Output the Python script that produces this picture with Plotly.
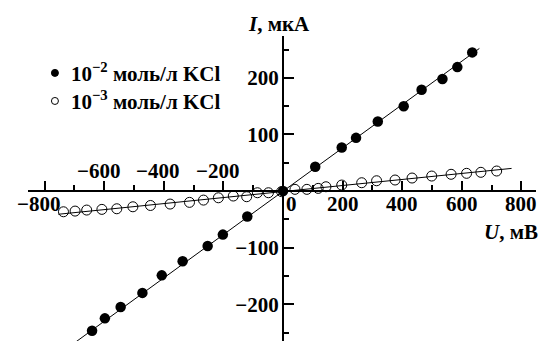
import plotly.graph_objects as go

# ---- data ----
u_hi = [-641, -598, -545, -472, -407, -337, -253, -202, -120, 0,
        108, 197, 245, 318, 405, 465, 535, 585, 635]
i_hi = [-247, -225, -205, -180, -149, -124, -97, -77, -45, 0,
        43, 77, 94, 123, 150, 179, 198, 219, 245]

u_lo = [-737, -698, -659, -608, -558, -504, -445, -379, -314, -267,
        -217, -167, -122, -86, -49, -5, 40, 80, 118, 144,
        197, 264, 314, 376, 433, 499, 564, 616, 664, 717]
i_lo = [-36.6, -35.4, -33.6, -32.4, -31.3, -27.8, -25.5, -23, -20, -16,
        -11.9, -8.8, -10, -3, -3, -1, 3, 3, 4.7, 7.6,
        10.6, 14.7, 18.2, 19.5, 23, 26.5, 29.6, 31.3, 33.1, 35.4]

fit_hi_u = [-720, 659]
fit_hi_i = [-276, 252]
fit_lo_u = [-754, 767]
fit_lo_i = [-41, 40]

x_range = [-856, 849]
y_range = [-265, 274]

x_major = [-800, -600, -400, -200, 0, 200, 400, 600, 800]
x_labels_below = [-800, 0, 200, 400, 600, 800]
x_labels_above = [-600, -400, -200]
y_major = [-200, -100, 100, 200]
y_labels = ["\u2212200", "\u2212100", "100", "200"]

leg_texts = ["10<sup>\u22122</sup> моль/л KCl", "10<sup>\u22123</sup> моль/л KCl"]
x_title = "<i>U</i>, мВ"
y_title = "<i>I</i>, мкА"

FONT = dict(family="Liberation Serif, Times New Roman, serif", size=21,
            color="black", weight="bold")

def fmt(v):
    return ("\u2212" + str(-v)) if v < 0 else str(v)

fig = go.Figure()
fig.add_trace(go.Scatter(x=fit_hi_u, y=fit_hi_i, mode="lines",
                         line=dict(color="black", width=1), showlegend=False))
fig.add_trace(go.Scatter(x=fit_lo_u, y=fit_lo_i, mode="lines",
                         line=dict(color="black", width=1), showlegend=False))
fig.add_trace(go.Scatter(x=u_hi, y=i_hi, mode="markers", name=leg_texts[0],
                         marker=dict(symbol="circle", size=10.5, color="black"),
                         showlegend=False))
fig.add_trace(go.Scatter(x=u_lo, y=i_lo, mode="markers", name=leg_texts[1],
                         marker=dict(symbol="circle-open", size=10, color="black",
                                     line=dict(width=1)),
                         showlegend=False))

xpos = (0 - y_range[0]) / (y_range[1] - y_range[0])
ypos = (0 - x_range[0]) / (x_range[1] - x_range[0])

fig.update_layout(
    width=542, height=341,
    margin=dict(l=28, r=6, t=36, b=0),
    plot_bgcolor="white", paper_bgcolor="white",
    font=FONT,
    showlegend=False,
    xaxis=dict(range=x_range, anchor="free", position=xpos, automargin=False,
               showgrid=False, zeroline=False, showline=True,
               linecolor="black", linewidth=2,
               tickmode="array", tickvals=x_major, showticklabels=False,
               ticks="inside", ticklen=9, tickwidth=2, tickcolor="black",
               minor=dict(dtick=100, tick0=0, ticks="inside", ticklen=5,
                          tickwidth=2, tickcolor="black")),
    yaxis=dict(range=y_range, anchor="free", position=ypos, automargin=False,
               showgrid=False, zeroline=False, showline=True,
               linecolor="black", linewidth=2,
               tickmode="array", tickvals=y_major, ticktext=y_labels,
               ticks="inside", ticklen=10, tickwidth=2, tickcolor="black",
               minor=dict(dtick=50, tick0=0, ticks="inside", ticklen=5,
                          tickwidth=2, tickcolor="black"),
               tickfont=FONT, ticklabelstandoff=-1),
)

# x tick labels
for v in x_labels_below:
    shift = -6 if v < 0 else (8 if v == 0 else 0)
    fig.add_annotation(x=v, y=0, xref="x", yref="y", text=fmt(v),
                       showarrow=False, font=FONT, xshift=shift, yshift=-13)
for v in x_labels_above:
    fig.add_annotation(x=v, y=0, xref="x", yref="y", text=fmt(v),
                       showarrow=False, font=FONT, xshift=-6, yshift=20)

# axis titles
fig.add_annotation(x=0, y=1, xref="x", yref="paper", text=y_title,
                   showarrow=False, font=FONT, yanchor="bottom", yshift=-2, xshift=-4)
fig.add_annotation(x=1, y=0, xref="paper", yref="y", text=x_title,
                   showarrow=False, font=FONT, xanchor="right", yshift=-41, xshift=4)

# manual legend
leg_y = [0.879, 0.787]
leg_sym = [dict(fillcolor="black", line=dict(color="black", width=1)),
           dict(fillcolor="white", line=dict(color="black", width=1))]
for k in range(2):
    fig.add_shape(type="circle", xref="paper", yref="paper",
                  xsizemode="pixel", ysizemode="pixel",
                  xanchor=0.053, yanchor=leg_y[k], x0=-3.5, x1=3.5, y0=-3.5, y1=3.5,
                  **leg_sym[k])
    fig.add_annotation(x=0.080, y=leg_y[k], xref="paper", yref="paper",
                       text=leg_texts[k], showarrow=False, font=FONT,
                       xanchor="left", yanchor="middle")

fig.write_html("out.html", config={"displayModeBar": False},
               post_script="document.body.style.margin='0';"
                           "document.body.style.overflow='hidden';")
